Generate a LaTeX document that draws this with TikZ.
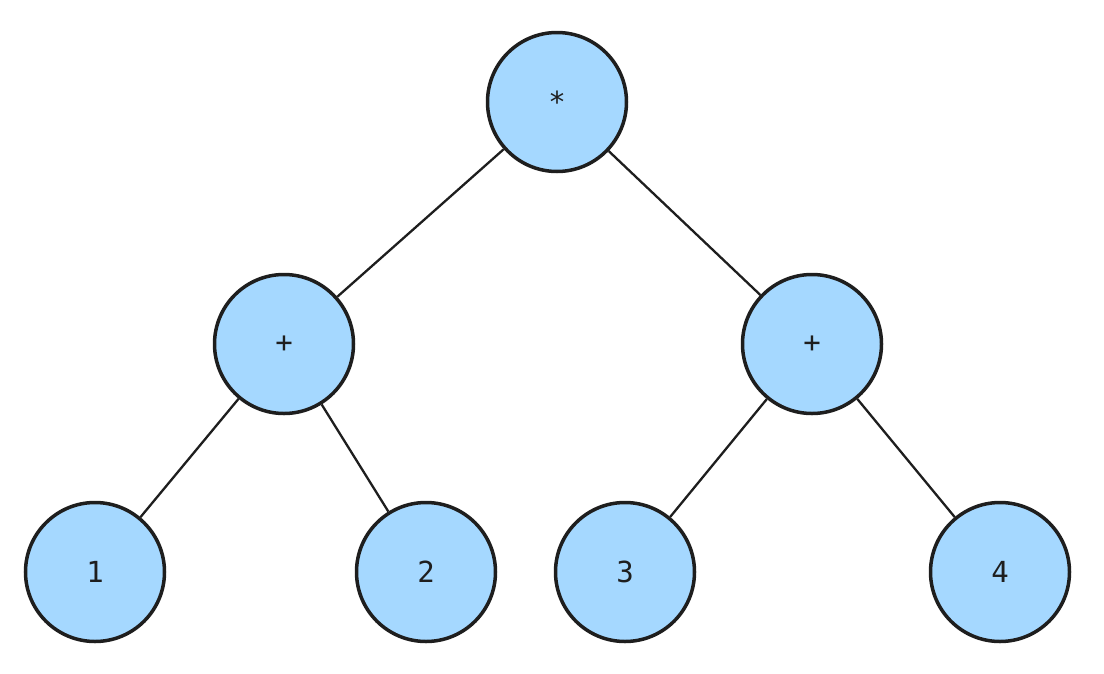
\documentclass[tikz,border=0pt]{standalone}
\usepackage{fontspec}
\setmonofont{DejaVu Sans Mono}
\usepackage{tikz}
\usetikzlibrary{positioning}

\definecolor{nodeblue}{HTML}{A5D8FF}
\definecolor{inkdark}{HTML}{1E1E1E}

\begin{document}
\begin{tikzpicture}[x=1pt, y=-1pt,
    treenode/.style={draw=inkdark, fill=nodeblue, circle, line width=3.5pt, minimum size=139pt, inner sep=0pt, text=inkdark, font=\ttfamily\fontsize{29}{33}\selectfont},
    edge/.style={draw=inkdark, line width=2.3pt}]
            \useasboundingbox (0,0) rectangle (1104,673);
            \node [treenode] (times) at (557, 102) {*};
            \node [treenode] (plus1) at (284, 344) {+};
            \node [treenode] (plus2) at (812, 344) {+};
            \node [treenode] (num1) at (95, 572) {1};
            \node [treenode] (num2) at (426, 572) {2};
            \node [treenode] (num3) at (625, 572) {3};
            \node [treenode] (num4) at (1000, 572) {4};

            \draw [edge] (times) -- (plus1);
            \draw [edge] (times) -- (plus2);
            \draw [edge] (plus1) -- (num1);
            \draw [edge] (plus1) -- (num2);
            \draw [edge] (plus2) -- (num3);
            \draw [edge] (plus2) -- (num4);
        \end{tikzpicture}
\end{document}
